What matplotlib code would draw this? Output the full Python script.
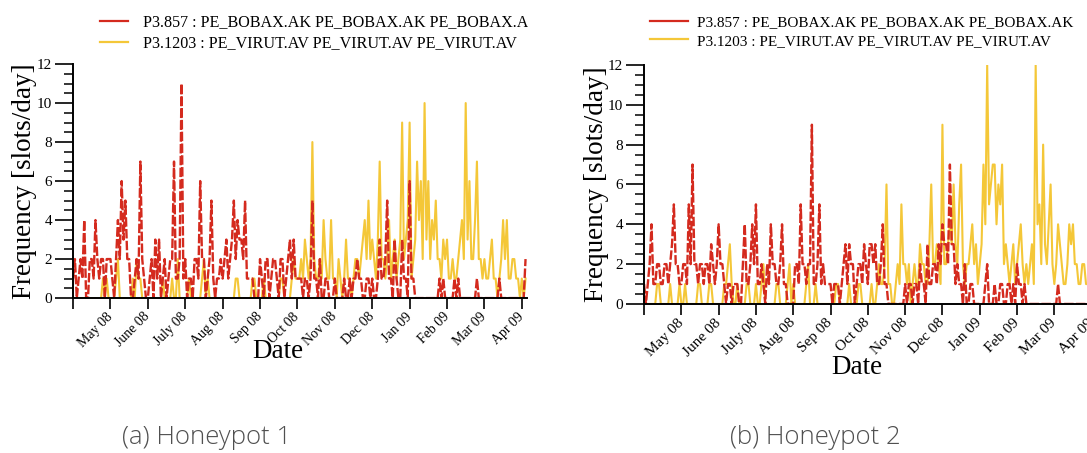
import numpy as np
import matplotlib.pyplot as plt
from matplotlib.ticker import MultipleLocator
from matplotlib.patches import Rectangle

plt.rcParams['font.family'] = ['Liberation Serif', 'DejaVu Serif']

# month tick labels (tick 0 = start of Apr 08, unlabeled)
months = ['May 08', 'June 08', 'July 08', 'Aug 08', 'Sep 08', 'Oct 08',
          'Nov 08', 'Dec 08', 'Jan 09', 'Feb 09', 'Mar 09', 'Apr 09']
step = 0.05  # samples read every 0.05 month (~1.5 days), one row = one month

red_label = 'P3.857 : PE_BOBAX.AK PE_BOBAX.AK PE_BOBAX.AK'
yellow_label = 'P3.1203 : PE_VIRUT.AV PE_VIRUT.AV PE_VIRUT.AV'

# Honeypot 1
h1_red = [1, 2, 0, 1, 2, 1, 4, 0, 0, 2, 2, 1, 4, 2, 1, 2, 2, 0, 2, 2,
          2, 1, 0, 2, 4, 2, 6, 3, 5, 2, 2, 0, 0, 1, 2, 1, 7, 2, 1, 0,
          0, 1, 2, 0, 3, 1, 3, 0, 1, 2, 0, 1, 2, 2, 7, 1, 1, 2, 11, 1,
          2, 0, 1, 1, 0, 2, 2, 1, 6, 2, 2, 0, 1, 2, 5, 1, 0, 1, 1, 2,
          1, 2, 3, 1, 2, 3, 5, 2, 4, 3, 3, 2, 5, 1, 1, 1, 1, 0, 0, 0,
          2, 1, 0, 2, 2, 0, 1, 2, 2, 1, 0, 2, 2, 0, 1, 2, 3, 1, 3, 1,
          1, 1, 1, 0, 1, 1, 0, 1, 5, 1, 1, 0, 2, 0, 0, 1, 1, 0, 0, 0,
          1, 0, 0, 0, 0, 1, 0, 0, 1, 0, 1, 1, 2, 1, 1, 0, 0, 1, 1, 0,
          1, 0, 0, 1, 3, 1, 1, 2, 5, 1, 1, 0, 3, 1, 0, 0, 3, 1, 1, 0,
          6, 1, 1, 0, 0, 0, 0, 0, 0, 0, 0, 0, 0, 0, 0, 0, 1, 0, 1, 0,
          0, 0, 0, 0, 1, 0, 1, 0, 0, 0, 0, 0, 0, 0, 0, 0, 1, 0, 0, 0,
          0, 0, 0, 0, 0, 0, 0, 0, 1, 0, 0, 0, 0, 0, 0, 0, 0, 0, 0, 0,
          0, 0, 2]
h1_yellow = [0, 0, 0, 0, 0, 0, 0, 0, 0, 0, 0, 0, 0, 0, 0, 0, 1, 0, 1, 0,
             0, 0, 0, 1, 2, 0, 0, 0, 0, 0, 0, 0, 1, 0, 2, 1, 1, 0, 0, 0,
             0, 0, 0, 0, 0, 0, 0, 0, 1, 0, 0, 0, 0, 1, 0, 0, 2, 0, 0, 0,
             0, 0, 1, 0, 0, 0, 0, 0, 0, 1, 2, 0, 1, 0, 0, 0, 0, 0, 0, 0,
             0, 0, 0, 0, 0, 0, 0, 1, 1, 0, 0, 0, 0, 0, 0, 0, 1, 1, 0, 0,
             0, 0, 1, 0, 0, 0, 0, 0, 0, 0, 0, 1, 1, 0, 0, 0, 0, 1, 2, 1,
             1, 1, 2, 1, 3, 2, 1, 2, 8, 2, 1, 1, 2, 1, 4, 2, 1, 1, 4, 1,
             1, 0, 2, 1, 0, 1, 3, 1, 1, 0, 1, 2, 2, 1, 2, 3, 4, 2, 5, 2,
             3, 2, 1, 3, 7, 2, 2, 1, 2, 4, 1, 2, 3, 1, 2, 3, 9, 2, 3, 4,
             9, 1, 2, 3, 7, 4, 6, 2, 10, 3, 6, 2, 4, 3, 5, 2, 2, 1, 3, 2,
             3, 1, 1, 2, 1, 1, 2, 3, 4, 2, 10, 3, 6, 2, 2, 4, 7, 2, 2, 1,
             2, 1, 1, 2, 3, 1, 1, 0, 1, 2, 4, 2, 4, 1, 1, 2, 2, 1, 1, 0,
             1, 0, 1]

# Honeypot 2
h2_red = [1, 0, 1, 2, 4, 1, 1, 2, 2, 1, 1, 2, 2, 1, 2, 3, 5, 2, 2, 1,
          1, 2, 2, 1, 5, 2, 7, 2, 2, 1, 2, 2, 1, 2, 2, 1, 3, 2, 1, 2,
          4, 2, 2, 1, 0, 1, 1, 0, 1, 1, 1, 0, 0, 2, 4, 1, 1, 2, 4, 2,
          5, 1, 1, 2, 1, 0, 2, 1, 4, 2, 2, 1, 1, 2, 4, 1, 1, 0, 0, 0,
          0, 2, 2, 1, 5, 2, 2, 1, 2, 2, 9, 1, 1, 2, 5, 1, 2, 1, 1, 1,
          1, 0, 1, 1, 1, 0, 1, 2, 3, 1, 3, 2, 2, 0, 1, 2, 2, 1, 3, 2,
          1, 3, 3, 2, 3, 1, 1, 2, 4, 1, 1, 0, 0, 0, 0, 0, 0, 0, 0, 0,
          1, 0, 1, 1, 0, 1, 1, 0, 2, 1, 1, 0, 3, 1, 1, 2, 2, 1, 3, 2,
          4, 3, 3, 2, 7, 3, 3, 1, 2, 1, 1, 0, 2, 0, 0, 1, 1, 0, 0, 0,
          0, 0, 0, 1, 2, 0, 0, 0, 1, 0, 0, 1, 1, 0, 0, 1, 1, 0, 1, 0,
          2, 1, 1, 0, 1, 0, 0, 0, 0, 0, 0, 0, 0, 0, 0, 0, 0, 0, 0, 0,
          0, 0, 1, 0, 0, 0, 0, 0, 0, 0, 0, 0, 0, 0, 0, 0, 0, 0, 0, 0,
          0, 0, 0]
h2_yellow = [0, 0, 0, 0, 0, 0, 0, 1, 1, 0, 0, 0, 0, 0, 1, 0, 0, 0, 0, 1,
             0, 0, 1, 0, 0, 0, 0, 0, 0, 1, 1, 0, 0, 0, 0, 1, 1, 0, 0, 0,
             0, 0, 0, 1, 1, 2, 3, 1, 0, 0, 1, 0, 0, 0, 0, 1, 1, 0, 0, 0,
             1, 0, 0, 1, 2, 0, 0, 0, 0, 0, 0, 1, 1, 0, 0, 0, 0, 1, 2, 0,
             1, 0, 0, 0, 0, 0, 0, 1, 2, 0, 0, 0, 1, 0, 0, 0, 0, 0, 0, 0,
             0, 0, 0, 1, 1, 0, 0, 0, 0, 0, 1, 0, 0, 0, 0, 1, 1, 0, 0, 0,
             0, 0, 1, 0, 0, 1, 2, 1, 1, 2, 6, 1, 1, 0, 0, 1, 2, 1, 5, 2,
             2, 1, 2, 0, 1, 2, 1, 1, 3, 2, 2, 1, 1, 3, 6, 2, 2, 3, 2, 1,
             9, 2, 2, 3, 4, 3, 6, 3, 2, 5, 7, 2, 1, 2, 2, 3, 4, 2, 3, 1,
             2, 3, 7, 4, 12, 5, 6, 7, 7, 4, 6, 5, 7, 2, 3, 2, 1, 2, 3, 1,
             2, 3, 4, 2, 1, 2, 1, 2, 3, 1, 12, 4, 5, 2, 8, 3, 2, 4, 6, 2,
             1, 2, 4, 3, 2, 1, 1, 2, 4, 3, 4, 2, 2, 1, 1, 2, 2, 1, 1, 0,
             1, 0, 1]

RED = '#d42a1e'
YELLOW = '#f4c738'

fig = plt.figure(figsize=(10.87, 4.53), dpi=100)


def draw_panel(rect, red, yellow, ylab_x, xlab_xy, xtick_size, leg_opts):
    ax = fig.add_axes(rect)
    x = np.arange(len(red)) * step
    ly, = ax.plot(x, yellow, color=YELLOW, lw=1.5, label=yellow_label)
    lr, = ax.plot(x, red, color=RED, lw=1.7, ls=(0, (4, 1)), label=red_label)

    ax.set_xlim(0, 12.15)
    ax.set_ylim(0, 12)
    for s in ['top', 'right']:
        ax.spines[s].set_visible(False)
    for s in ['left', 'bottom']:
        ax.spines[s].set_linewidth(1.4)

    ax.set_yticks(np.arange(0, 13, 2))
    ax.yaxis.set_minor_locator(MultipleLocator(0.5))
    ax.tick_params(axis='y', which='major', direction='out', length=13,
                   width=1.2, labelsize=11, pad=2)
    ax.tick_params(axis='y', which='minor', direction='out', length=6.5,
                   width=1.1)
    ax.set_xticks(range(13))
    ax.set_xticklabels([''] + months, rotation=45, ha='right',
                       va='center', rotation_mode='anchor')
    ax.tick_params(axis='x', direction='out', length=8, width=1.2,
                   labelsize=xtick_size, pad=4)

    ax.set_ylabel('Frequency [slots/day]', fontsize=19.5)
    ax.yaxis.set_label_coords(ylab_x, 0.5)
    ax.set_xlabel('Date', fontsize=19.5)
    ax.xaxis.set_label_coords(*xlab_xy)

    leg = ax.legend([lr, ly], [red_label, yellow_label],
                    loc='upper left', bbox_transform=fig.transFigure,
                    frameon=False, borderpad=0, borderaxespad=0, **leg_opts)
    for h in leg.legend_handles:
        h.set_linestyle('-')
        h.set_linewidth(1.6)
    return ax


draw_panel([0.0672, 0.342, 0.418, 0.5166], h1_red, h1_yellow,
           -0.079, (0.45, -0.175), 10,
           dict(bbox_to_anchor=(0.092, 0.968), fontsize=11.6,
                handlelength=1.75, handletextpad=0.9, labelspacing=0.3))
draw_panel([0.5925, 0.329, 0.4169, 0.5276], h2_red, h2_yellow,
           -0.077, (0.47, -0.215), 11,
           dict(bbox_to_anchor=(0.598, 0.966), fontsize=11,
                handlelength=2.5, handletextpad=0.6, labelspacing=0.33))

# the left sub-figure is cropped just right of its axes, cutting the legend
fig.add_artist(Rectangle((528 / 1087, 0.85), 40 / 1087, 0.15,
                         transform=fig.transFigure, color='white', zorder=10))

fig.text(207 / 1087, 1 - 437 / 453, '(a) Honeypot 1', ha='center', va='center',
         fontsize=18.5, color='#505050', family='Open Sans', weight='light')
fig.text(815 / 1087, 1 - 437 / 453, '(b) Honeypot 2', ha='center', va='center',
         fontsize=18.5, color='#505050', family='Open Sans', weight='light')

fig.savefig('out.png', dpi=100)
